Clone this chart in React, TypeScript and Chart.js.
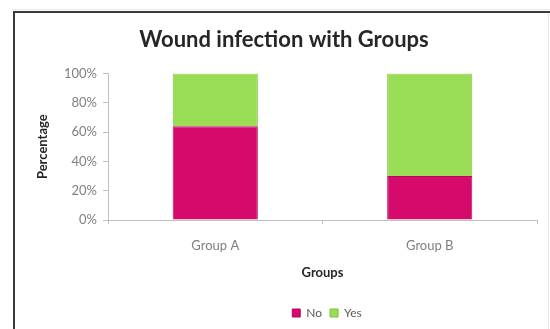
import React, { useEffect, useRef } from "react";
import { Chart, registerables } from "chart.js";

Chart.register(...registerables);

const categories = ["Group A", "Group B"];
const seriesNames = ["No", "Yes"];
const noValues = [64, 30];
const yesValues = [36, 70];
const yTickValues = [0, 20, 40, 60, 80, 100];

const noColor = "#d60a6b";
const yesColor = "#99dd55";
const axisColor = "#bfbfbf";
const labelColor = "#7f7f7f";
const titleColor = "#262626";

// White page with the dark outer frame around the chart; also nudges the
// title and legend boxes sideways so they sit where the sheet placed them.
const framePlugin = {
  id: "frame",
  afterLayout(chart: any) {
    const t = chart.titleBlock;
    if (t) {
      t.left += 5.5;
      t.right += 5.5;
    }
    const l = chart.legend;
    if (l) {
      l.left += 48.5;
      l.right += 48.5;
    }
  },
  beforeDraw(chart: any) {
    const { ctx, width, height } = chart;
    ctx.save();
    ctx.fillStyle = "#ffffff";
    ctx.fillRect(0, 0, width, height);
    ctx.strokeStyle = "#e8e8e8";
    ctx.lineWidth = 1;
    ctx.beginPath();
    ctx.moveTo(12, 9.5);
    ctx.lineTo(width, 9.5);
    ctx.stroke();
    ctx.strokeStyle = "#3a3a3a";
    ctx.lineWidth = 2;
    ctx.beginPath();
    ctx.moveTo(14, height);
    ctx.lineTo(14, 12);
    ctx.lineTo(width, 12);
    ctx.stroke();
    ctx.strokeStyle = "#e6e6e6";
    ctx.lineWidth = 1;
    ctx.beginPath();
    ctx.moveTo(548.5, 13);
    ctx.lineTo(548.5, height);
    ctx.stroke();
    ctx.restore();
  },
};

export default function App() {
  const canvasRef = useRef<HTMLCanvasElement | null>(null);

  useEffect(() => {
    document.body.style.margin = "0";
    const canvas = canvasRef.current;
    if (!canvas) return;
    Chart.defaults.font.family = "Lato, 'Open Sans', sans-serif";

    const chart = new Chart(canvas, {
      type: "bar",
      data: {
        labels: categories,
        datasets: [
          {
            label: seriesNames[0],
            data: noValues,
            backgroundColor: noColor,
            borderColor: "#b80659",
            borderWidth: 1,
            barPercentage: 0.397,
            categoryPercentage: 1,
          },
          {
            label: seriesNames[1],
            data: yesValues,
            backgroundColor: yesColor,
            borderColor: "#7cbf3a",
            borderWidth: 1,
            barPercentage: 0.397,
            categoryPercentage: 1,
          },
        ],
      },
      options: {
        animation: false,
        responsive: false,
        devicePixelRatio: 1,
        layout: { padding: { left: 20, right: 13, top: 0, bottom: 0 } },
        plugins: {
          title: {
            display: true,
            text: "Wound infection with Groups",
            color: titleColor,
            font: { size: 22, weight: "bold" },
            padding: { top: 27, bottom: 20 },
          },
          legend: {
            position: "bottom",
            labels: {
              boxWidth: 8,
              boxHeight: 8,
              padding: 8,
              color: "#595959",
              font: { size: 12 },
            },
          },
          tooltip: { enabled: false },
        },
        scales: {
          x: {
            stacked: true,
            grid: {
              offset: true,
              drawOnChartArea: false,
              tickLength: 4,
              color: axisColor,
            },
            border: { color: axisColor },
            ticks: { padding: 14, color: labelColor, font: { size: 13 } },
            title: {
              display: true,
              text: "Groups",
              color: titleColor,
              font: { size: 13, weight: "bold" },
              padding: { top: 10, bottom: 18 },
            },
            afterFit(scale: any) {
              scale.height = 79;
            },
          },
          y: {
            stacked: true,
            min: 0,
            max: 100,
            afterBuildTicks(scale: any) {
              scale.ticks = yTickValues.map((v) => ({ value: v }));
            },
            ticks: {
              padding: 6,
              color: labelColor,
              font: { size: 13 },
              callback: (v: any) => v + "%",
            },
            grid: {
              drawOnChartArea: false,
              tickLength: 5,
              color: axisColor,
            },
            border: { color: axisColor },
            title: {
              display: true,
              text: "Percentage",
              color: titleColor,
              font: { size: 13, weight: "bold" },
              padding: { top: 15, bottom: 0 },
            },
            afterFit(scale: any) {
              scale.width = 88;
            },
          },
        },
      },
      plugins: [framePlugin],
    });

    return () => chart.destroy();
  }, []);

  return (
    <canvas
      ref={canvasRef}
      width={550}
      height={329}
      style={{ display: "block", width: 550, height: 329 }}
    />
  );
}
